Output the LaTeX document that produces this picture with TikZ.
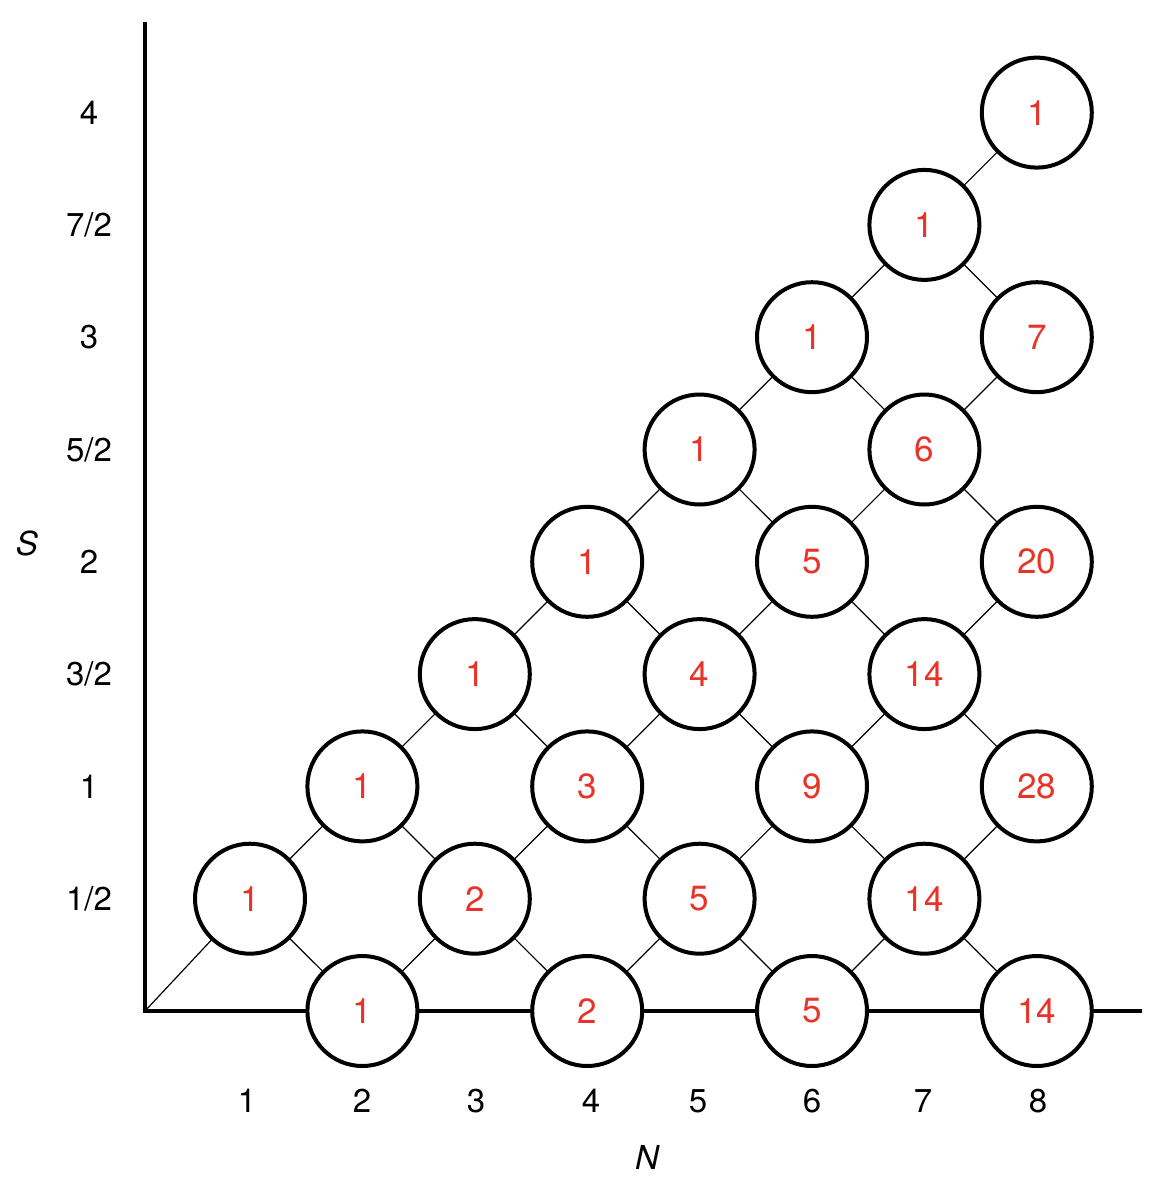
\documentclass[tikz,border=0pt]{standalone}
\usepackage{fontspec}
\setmainfont{TeX Gyre Heros}
\definecolor{numred}{RGB}{232,52,40}
\begin{document}
\begin{tikzpicture}[x=1pt,y=-1pt,
  cnode/.style={circle,draw=black,line width=4pt,fill=white,minimum size=110pt,inner sep=0pt,text=numred,font=\fontsize{35}{35}\selectfont},
  axis/.style={line width=3.5pt},
  link/.style={line width=1.2pt},
  tick/.style={font=\fontsize{33}{33}\selectfont,text=black},
  axlab/.style={font=\itshape\fontsize{33}{33}\selectfont}]
\useasboundingbox (0,0) rectangle (1172,1186);
% axes
\coordinate (O) at (145,1011);
\coordinate (ytop) at (145,22);
\coordinate (xend) at (1142,1011);
\draw[axis] (ytop) -- (O) -- (xend);
% nodes: N / 2S / value
\foreach \n/\k/\v in {1/1/1, 2/0/1, 2/2/1, 3/1/2, 3/3/1, 4/0/2, 4/2/3, 4/4/1,
  5/1/5, 5/3/4, 5/5/1, 6/0/5, 6/2/9, 6/4/5, 6/6/1,
  7/1/14, 7/3/14, 7/5/6, 7/7/1, 8/0/14, 8/2/28, 8/4/20, 8/6/7, 8/8/1}
  \coordinate (c-\n-\k) at ({250+112.4*(\n-1)},{1011-112.3*\k});
% links
\draw[link] (O) -- (c-1-1);
\foreach \a/\b in {1-1/2-0, 1-1/2-2, 2-0/3-1, 2-2/3-1, 2-2/3-3,
  3-1/4-0, 3-1/4-2, 3-3/4-2, 3-3/4-4,
  4-0/5-1, 4-2/5-1, 4-2/5-3, 4-4/5-3, 4-4/5-5,
  5-1/6-0, 5-1/6-2, 5-3/6-2, 5-3/6-4, 5-5/6-4, 5-5/6-6,
  6-0/7-1, 6-2/7-1, 6-2/7-3, 6-4/7-3, 6-4/7-5, 6-6/7-5, 6-6/7-7,
  7-1/8-0, 7-1/8-2, 7-3/8-2, 7-3/8-4, 7-5/8-4, 7-5/8-6, 7-7/8-6, 7-7/8-8}
  \draw[link] (c-\a) -- (c-\b);
\foreach \n/\k/\v in {1/1/1, 2/0/1, 2/2/1, 3/1/2, 3/3/1, 4/0/2, 4/2/3, 4/4/1,
  5/1/5, 5/3/4, 5/5/1, 6/0/5, 6/2/9, 6/4/5, 6/6/1,
  7/1/14, 7/3/14, 7/5/6, 7/7/1, 8/0/14, 8/2/28, 8/4/20, 8/6/7, 8/8/1}
  \node[cnode] (n-\n-\k) at (c-\n-\k) {\v};
% y tick labels
\foreach \k/\t in {1/1\slash 2, 2/1, 3/3\slash 2, 4/2, 5/5\slash 2, 6/3, 7/7\slash 2, 8/4}
  \node[tick] (yl-\k) at (89,{1011-112.3*\k}) {\t};
% x tick labels
\foreach \n/\xx in {1/247, 2/362, 3/476, 4/591, 5/698, 6/812, 7/923, 8/1038}
  \node[tick] (xl-\n) at (\xx,1101) {\n};
\node[axlab] (Slab) at (27,543) {S};
\node[axlab] (Nlab) at (647,1157) {N};
\end{tikzpicture}
\end{document}
